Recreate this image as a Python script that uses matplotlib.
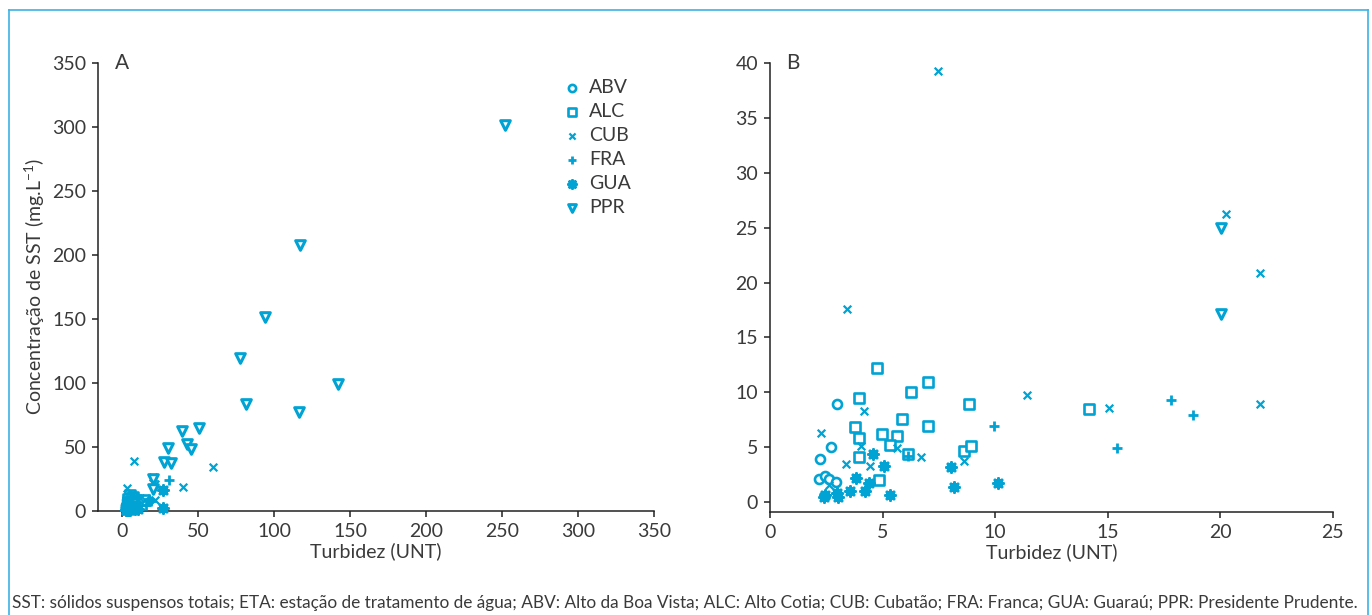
import matplotlib
matplotlib.use("Agg")
import matplotlib.pyplot as plt
from matplotlib.lines import Line2D

plt.rcParams['font.family'] = ['Lato', 'DejaVu Sans']
plt.rcParams['mathtext.fontset'] = 'custom'
plt.rcParams['mathtext.rm'] = 'Lato'
plt.rcParams['mathtext.default'] = 'regular'

# ---------------- data ----------------
stations = ["ABV", "ALC", "CUB", "FRA", "GUA", "PPR"]

abv_x = [2.98, 2.69, 2.21, 2.17, 2.46, 2.61, 2.95]
abv_y = [8.91, 5.00, 3.93, 2.11, 2.38, 2.17, 1.87]

alc_x = [4.76, 7.02, 6.25, 3.94, 8.85, 5.85, 3.76, 7.02, 3.94, 4.96, 5.65, 5.35,
         6.15, 8.63, 8.93, 3.94, 4.83, 14.19]
alc_y = [12.18, 10.94, 10.00, 9.51, 8.91, 7.54, 6.87, 6.96, 5.87, 6.23, 6.02, 5.23,
         4.36, 4.69, 5.11, 4.14, 2.02, 8.48]

cub_x = [4.16, 2.27, 4.06, 5.65, 6.72, 3.36, 4.46, 8.63, 11.42, 2.61, 3.40, 7.45,
         20.25, 21.77, 21.77, 15.08, 59.9, 39.7]
cub_y = [8.30, 6.27, 5.11, 4.90, 4.14, 3.45, 3.29, 3.78, 9.78, 1.57, 17.58, 39.26,
         26.20, 20.83, 8.91, 8.54, 34.6, 18.5]

fra_x = [9.93, 6.12, 17.82, 18.81, 15.41, 30.9]
fra_y = [6.96, 4.20, 9.30, 7.93, 4.90, 24.1]

gua_x = [4.58, 5.07, 3.83, 4.39, 4.24, 3.57, 2.98, 3.01, 2.46, 2.39, 5.35, 8.06,
         8.16, 10.11, 26.6, 26.6]
gua_y = [4.36, 3.29, 2.23, 1.77, 1.02, 1.02, 0.81, 0.50, 0.66, 0.50, 0.66, 3.23,
         1.41, 1.72, 16.3, 2.6]

ppr_x = [20.03, 20.03, 39.3, 50.3, 30.3, 42.4, 45.0, 27.4, 32.0,
         251.8, 116.9, 93.9, 77.4, 81.4, 116.3, 141.9]
ppr_y = [24.92, 17.12, 62.5, 64.6, 49.0, 52.1, 48.3, 38.5, 37.7,
         301.3, 207.6, 151.4, 119.4, 83.5, 77.3, 99.1]

a_xticks = [0, 50, 100, 150, 200, 250, 300, 350]
a_yticks = [0, 50, 100, 150, 200, 250, 300, 350]
b_xticks = [0, 5, 10, 15, 20, 25]
b_yticks = [0, 5, 10, 15, 20, 25, 30, 35, 40]

caption = ("SST: sólidos suspensos totais; ETA: estação de tratamento de água; "
           "ABV: Alto da Boa Vista; ALC: Alto Cotia; CUB: Cubatão; FRA: Franca; "
           "GUA: Guaraú; PPR: Presidente Prudente.")

# ---------------- style ----------------
C = '#00a3d4'
TXT = '#3a3a3a'
FS = 14

series = [
    (abv_x, abv_y, dict(marker='o', s=42, facecolors='white', edgecolors=C, linewidths=1.9)),
    (alc_x, alc_y, dict(marker='s', s=42, facecolors='white', edgecolors=C, linewidths=1.9)),
    (cub_x, cub_y, dict(marker='x', s=30, c=C, linewidths=1.6)),
    (fra_x, fra_y, dict(marker='+', s=55, c=C, linewidths=2.0)),
    (gua_x, gua_y, dict(marker=(8, 2, 0), s=50, c=C, linewidths=2.1)),
    (ppr_x, ppr_y, dict(marker='v', s=48, facecolors='white', edgecolors=C, linewidths=2.2)),
]

W, H = 1372, 615
fig = plt.figure(figsize=(W / 100, H / 100), dpi=100)

axA = fig.add_axes([98 / W, 1 - 511 / H, 556 / W, 448.3 / H])
axB = fig.add_axes([770 / W, 1 - 511.7 / H, 562.7 / W, 449 / H])


def style(ax):
    for s in ('top', 'right'):
        ax.spines[s].set_visible(False)
    for s in ('left', 'bottom'):
        ax.spines[s].set_color('#222222')
        ax.spines[s].set_linewidth(1.1)
    ax.tick_params(direction='out', length=4.5, width=1.1, color='#222222',
                   labelsize=FS, labelcolor=TXT, pad=4)


for ax in (axA, axB):
    for (xs, ys, kw), name in zip(series, stations):
        ax.scatter(xs, ys, label=name, zorder=3, **kw)

axA.set_xlim(-16, 350)
axA.set_ylim(0, 350)
axA.set_xticks(a_xticks)
axA.set_yticks(a_yticks)
for sc in axA.collections:
    sc.set_clip_on(False)

axB.set_xlim(0, 25)
axB.set_ylim(-0.85, 40)
axB.set_xticks(b_xticks)
axB.set_yticks(b_yticks)

style(axA)
style(axB)

axA.set_xlabel("Turbidez (UNT)", fontsize=FS, color=TXT, labelpad=2)
axB.set_xlabel("Turbidez (UNT)", fontsize=FS, color=TXT, labelpad=2)
axA.set_ylabel("Concentração de SST (mg.L$^{-1}$)", fontsize=FS, color=TXT,
               labelpad=4)

axA.text(0.031, 1.0, "A", transform=axA.transAxes, fontsize=FS + 1, color=TXT,
         va='center', ha='left')
axB.text(0.028, 1.0, "B", transform=axB.transAxes, fontsize=FS + 1, color=TXT,
         va='center', ha='left')

leg = axA.legend(loc='upper left', bbox_to_anchor=(0.818, 0.985), frameon=False,
                 fontsize=FS, markerscale=0.8, handletextpad=0.35, labelspacing=0.36,
                 borderpad=0, handlelength=1.0, scatterpoints=1)
for t in leg.get_texts():
    t.set_color(TXT)

# caption
fig.text(12 / W, 1 - 603 / H, caption, fontsize=12.4, color=TXT,
         ha='left', va='center')

# light-blue frame
BC = '#3db3e3'
fig.add_artist(Line2D([9 / W, 9 / W], [0, 1 - 10 / H], color=BC, lw=1.2, transform=fig.transFigure))
fig.add_artist(Line2D([1368 / W, 1368 / W], [0, 1 - 10 / H], color=BC, lw=1.2, transform=fig.transFigure))
fig.add_artist(Line2D([9 / W, 1368 / W], [1 - 10 / H, 1 - 10 / H], color=BC, lw=1.2, transform=fig.transFigure))

fig.savefig("out.png", dpi=100, facecolor='white')
